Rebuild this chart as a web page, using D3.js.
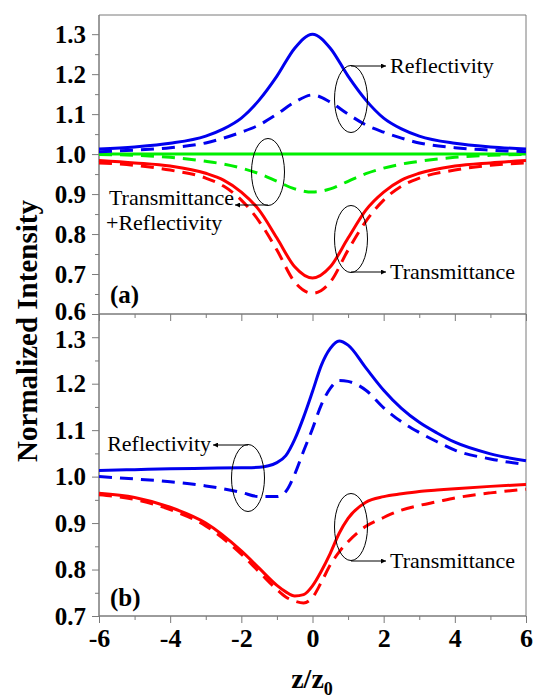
<!DOCTYPE html>
<html>
<head>
<meta charset="utf-8">
<script src="https://cdn.jsdelivr.net/npm/d3@7"></script>
<style>
  body { margin: 0; background: #fff; }
</style>
</head>
<body>
<div class="chart"></div>
<script>
// panel (a): symmetric curves
var xA = [-6, -5, -4, -3, -2.5, -2, -1.5, -1, -0.5, 0, 0.5, 1, 1.5, 2, 2.5, 3, 4, 5, 6];
var reflSolidA = [1.013, 1.018, 1.027, 1.045, 1.063, 1.09, 1.135, 1.195, 1.265, 1.30, 1.265, 1.195, 1.135, 1.09, 1.063, 1.045, 1.027, 1.018, 1.013];
var reflDashA = [1.006, 1.01, 1.016, 1.028, 1.04, 1.055, 1.073, 1.1, 1.13, 1.148, 1.13, 1.1, 1.073, 1.055, 1.04, 1.028, 1.016, 1.01, 1.006];
var sumSolidA = [1, 1, 1, 1, 1, 1, 1, 1, 1, 1, 1, 1, 1, 1, 1, 1, 1, 1, 1];
var sumDashA = [0.999, 0.997, 0.992, 0.982, 0.975, 0.965, 0.951, 0.932, 0.913, 0.905, 0.913, 0.932, 0.951, 0.965, 0.975, 0.982, 0.992, 0.997, 0.999];
var transSolidA = [0.984, 0.978, 0.97, 0.952, 0.935, 0.905, 0.86, 0.79, 0.718, 0.69, 0.718, 0.79, 0.86, 0.905, 0.935, 0.952, 0.97, 0.978, 0.984];
var transDashA = [0.978, 0.972, 0.96, 0.94, 0.92, 0.885, 0.832, 0.76, 0.68, 0.652, 0.68, 0.76, 0.832, 0.885, 0.92, 0.94, 0.96, 0.972, 0.978];

// panel (b)
var xB = [-6, -5, -4, -3, -2, -1.5, -1, -0.75, -0.5, -0.25, 0, 0.25, 0.5, 0.75, 1, 1.5, 2, 2.5, 3, 3.5, 4, 5, 6];
var reflSolidB = [1.013, 1.015, 1.017, 1.018, 1.019, 1.02, 1.03, 1.045, 1.08, 1.128, 1.183, 1.24, 1.276, 1.292, 1.283, 1.234, 1.186, 1.147, 1.117, 1.094, 1.074, 1.049, 1.034];
var reflDashB = [1.0, 0.995, 0.989, 0.98, 0.966, 0.957, 0.957, 0.968, 1.005, 1.055, 1.103, 1.155, 1.19, 1.207, 1.205, 1.186, 1.148, 1.118, 1.095, 1.075, 1.057, 1.038, 1.026];
var transSolidB = [0.964, 0.955, 0.934, 0.9, 0.84, 0.803, 0.766, 0.752, 0.743, 0.746, 0.765, 0.797, 0.835, 0.878, 0.91, 0.945, 0.957, 0.963, 0.968, 0.971, 0.974, 0.979, 0.983];
var transDashB = [0.961, 0.951, 0.929, 0.894, 0.833, 0.795, 0.757, 0.741, 0.732, 0.728, 0.74, 0.773, 0.81, 0.838, 0.86, 0.893, 0.912, 0.928, 0.938, 0.946, 0.954, 0.965, 0.973];

var xTicks = [-6, -4, -2, 0, 2, 4, 6];
var xMinor = [-5, -3, -1, 1, 3, 5];
var yTicksA = [0.6, 0.7, 0.8, 0.9, 1.0, 1.1, 1.2, 1.3];
var yMinorA = [0.65, 0.75, 0.85, 0.95, 1.05, 1.15, 1.25];
var yTicksB = [0.7, 0.8, 0.9, 1.0, 1.1, 1.2, 1.3];
var yMinorB = [0.75, 0.85, 0.95, 1.05, 1.15, 1.25];

var width = 533;
var height = 698;
var left = 99, right = 526;
var axisColor = "#7a7a7a";
var serif = "'Liberation Serif', 'Times New Roman', serif";

var svg = d3
  .select(".chart")
  .append("svg")
  .attr("width", width)
  .attr("height", height)
  .style("background", "#fff");

var xScale = d3.scaleLinear().domain([-6, 6]).range([left, right]);
var yA = d3.scaleLinear().domain([0.6, 1.348]).range([314, 15]);
var yB = d3.scaleLinear().domain([0.7, 1.35]).range([616, 314]);

function drawAxes(y, ticks, minor, bottomY, topY, showX) {
  // major + minor y ticks
  var gy = svg.append("g").attr("transform", "translate(" + left + ",0)");
  gy.call(d3.axisLeft(y).tickValues(ticks).tickSize(7).tickPadding(6).tickFormat(d3.format(".1f")));
  gy.append("g").call(d3.axisLeft(y).tickValues(minor).tickSize(4).tickFormat(""));
  gy.selectAll("path.domain").attr("stroke", axisColor).attr("d", "M0," + bottomY + "V" + topY);
  gy.selectAll("line").attr("stroke", axisColor);
  gy.selectAll("text")
    .attr("fill", "#000")
    .style("font-size", "25px")
    .style("font-weight", "bold")
    .style("font-family", serif);

  var gx = svg.append("g").attr("transform", "translate(0," + bottomY + ")");
  gx.call(d3.axisBottom(xScale).tickValues(xTicks).tickSize(7).tickPadding(6)
    .tickFormat(showX ? function(d) { return String(d); } : ""));
  gx.append("g").call(d3.axisBottom(xScale).tickValues(xMinor).tickSize(4).tickFormat(""));
  gx.selectAll("path.domain").attr("stroke", axisColor).attr("d", "M" + left + ",0H" + right);
  gx.selectAll("line").attr("stroke", axisColor);
  gx.selectAll("text")
    .attr("fill", "#000")
    .style("font-size", "26px")
    .style("font-weight", "bold")
    .style("font-family", serif);
  return gy;
}

var axA = drawAxes(yA, yTicksA, yMinorA, 314, 15, false);
var axB = drawAxes(yB, yTicksB, yMinorB, 616, 314, true);
// the two labels at the panel seam sit very close; keep them apart a little
axA.selectAll(".tick text").filter(function(d) { return d === 0.6; }).attr("dy", "0.2em");
axB.selectAll(".tick text").filter(function(d) { return d === 1.3; }).attr("dy", "0.4em");

// frame: top and right borders
svg.append("line").attr("x1", left).attr("x2", right).attr("y1", 15).attr("y2", 15)
  .attr("stroke", axisColor);
svg.append("line").attr("x1", right).attr("x2", right).attr("y1", 15).attr("y2", 616)
  .attr("stroke", axisColor);

function drawCurve(xs, ys, y, color, dashed) {
  var line = d3.line()
    .x(function(d) { return xScale(d[0]); })
    .y(function(d) { return y(d[1]); })
    .curve(d3.curveMonotoneX);
  svg.append("path")
    .datum(d3.zip(xs, ys))
    .attr("d", line)
    .attr("fill", "none")
    .attr("stroke", color)
    .attr("stroke-width", 3)
    .attr("stroke-dasharray", dashed ? "13,8" : null);
}

var blue = "#0000ee", red = "#ff0000", green = "#00ee00";

drawCurve(xA, sumSolidA, yA, green, false);
drawCurve(xA, sumDashA, yA, green, true);
drawCurve(xA, reflSolidA, yA, blue, false);
drawCurve(xA, reflDashA, yA, blue, true);
drawCurve(xA, transSolidA, yA, red, false);
drawCurve(xA, transDashA, yA, red, true);

drawCurve(xB, reflSolidB, yB, blue, false);
drawCurve(xB, reflDashB, yB, blue, true);
drawCurve(xB, transSolidB, yB, red, false);
drawCurve(xB, transDashB, yB, red, true);

// arrow marker
svg.append("defs").append("marker")
  .attr("id", "arr")
  .attr("viewBox", "0 0 10 10")
  .attr("refX", 10).attr("refY", 5)
  .attr("markerWidth", 9).attr("markerHeight", 5)
  .attr("markerUnits", "userSpaceOnUse")
  .attr("orient", "auto")
  .append("path").attr("d", "M0,0L10,5L0,10z").attr("fill", "#000");

function label(x, y, txt, anchor) {
  svg.append("text").attr("x", x).attr("y", y)
    .attr("text-anchor", anchor || "start")
    .style("font-family", serif)
    .style("font-size", "22px")
    .text(txt);
}

function note(cx, cy, ax, ay, tx, ty, txt, anchor) {
  svg.append("ellipse").attr("cx", cx).attr("cy", cy).attr("rx", 16.5).attr("ry", 33.5)
    .attr("fill", "none").attr("stroke", "#000").attr("stroke-width", 1);
  svg.append("line").attr("x1", cx).attr("y1", ay).attr("x2", ax).attr("y2", ay)
    .attr("stroke", "#000").attr("stroke-width", 1).attr("marker-end", "url(#arr)");
  label(tx, ty, txt, anchor);
}

note(351, 99, 386, 66, 390, 73, "Reflectivity", "start");
note(351, 239, 386, 272, 390, 279, "Transmittance", "start");
note(268, 172, 235, 205, 234, 205, "Transmittance", "end");
label(106, 230, "+Reflectivity");
note(248, 478, 213, 445, 211, 451, "Reflectivity", "end");
note(351, 527, 386, 561, 390, 568, "Transmittance", "start");

// panel labels
svg.append("text").attr("x", 110).attr("y", 303)
  .style("font-family", serif).style("font-size", "25px").style("font-weight", "bold").text("(a)");
svg.append("text").attr("x", 110).attr("y", 606)
  .style("font-family", serif).style("font-size", "25px").style("font-weight", "bold").text("(b)");

// axis titles
svg.append("text")
  .attr("transform", "translate(37,331) rotate(-90)")
  .attr("text-anchor", "middle")
  .style("font-family", serif)
  .style("font-size", "29px")
  .style("font-weight", "bold")
  .text("Normalized Intensity");

var xt = svg.append("text")
  .attr("x", 312).attr("y", 688)
  .attr("text-anchor", "middle")
  .style("font-family", serif)
  .style("font-size", "28px")
  .style("font-weight", "bold");
xt.append("tspan").text("z/z");
xt.append("tspan").attr("dy", 7).style("font-size", "18px").text("0");
</script>
</body>
</html>
